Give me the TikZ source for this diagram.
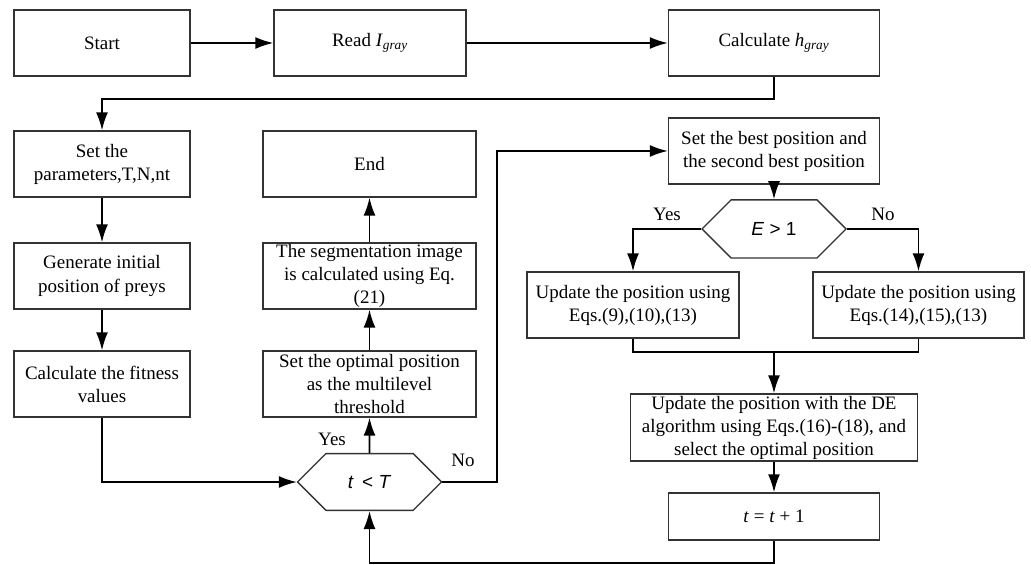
\documentclass[tikz,border=0pt]{standalone}
\usepackage{fontspec}
\setmainfont{Liberation Serif}
\newfontfamily\hexfont{Liberation Sans}
\usetikzlibrary{positioning}
\usetikzlibrary{shapes.misc}
\usetikzlibrary{arrows.meta}

\begin{document}
\begin{tikzpicture}[
  box/.style={draw=black!80,line width=1pt,minimum height=1.65cm,align=center,inner xsep=2pt,inner ysep=0pt,font=\fontsize{13.5}{16.4}\selectfont},
  hexa/.style={draw=black!80,line width=1pt,chamfered rectangle,chamfered rectangle xsep=0.8875cm,chamfered rectangle ysep=0.575cm,minimum width=3.6cm,minimum height=1.15cm,inner sep=0pt,font=\hexfont\fontsize{13.5}{16}\selectfont},
  link/.style={line width=1.2pt,-{Latex[length=0.45cm,width=0.3cm]}},
  lbl/.style={font=\fontsize{13.5}{16}\selectfont}
]
\useasboundingbox (0,0) rectangle (25.775,14.125);

\node[box,minimum width=4.4cm] (start) at (2.55,13.05) {Start};
\node[box,minimum width=4.8cm] (read) at (9.25,13.05) {Read \textit{I}\textsubscript{\textit{gray}}};
\node[box,minimum width=5.275cm] (calc) at (19.35,13.05) {Calculate \textit{h}\textsubscript{\textit{gray}}};

\node[box,minimum width=4.4cm] (params) at (2.55,10.025) {Set the\\parameters,T,N,nt};
\node[box,minimum width=4.4cm] (init) at (2.55,7.225) {Generate initial\\position of preys};
\node[box,minimum width=4.4cm] (fitness) at (2.55,4.525) {Calculate the fitness\\values};

\node[box,minimum width=5.325cm] (finish) at (9.2375,10.025) {End};
\node[box,minimum width=5.325cm] (segment) at (9.2375,7.225) {The segmentation image\\is calculated using Eq.\\(21)};
\node[box,minimum width=5.325cm] (optimal) at (9.2375,4.525) {Set the optimal position\\as the multilevel\\threshold};
\node[hexa] (ttest) at (9.2375,2.075) {\textit{t}\, < \textit{T}};

\node[box,minimum width=5.275cm] (best) at (19.35,10.35) {Set the best position and\\the second best position};
\node[hexa] (etest) at (19.35,8.4) {\textit{E} > 1};
\node[box,minimum width=5.3cm] (upleft) at (15.825,6.5) {Update the position using\\Eqs.(9),(10),(13)};
\node[box,minimum width=5.275cm] (upright) at (22.9625,6.5) {Update the position using\\Eqs.(14),(15),(13)};
\node[box,minimum width=7.175cm,minimum height=1.675cm] (de) at (19.35,3.4375) {Update the position with the DE\\algorithm using Eqs.(16)-(18), and\\select the optimal position};
\node[box,minimum width=5.275cm,minimum height=1.175cm] (inc) at (19.35,1.2125) {\textit{t} = \textit{t} + 1};

\node[lbl] (yes1) at (8.3,3.15) {Yes};
\node[lbl] (no1) at (11.575,2.625) {No};
\node[lbl] (yes2) at (16.675,8.775) {Yes};
\node[lbl] (no2) at (22.075,8.775) {No};

\draw[link] (start) -- (read);
\draw[link] (read) -- (calc);
\draw[link] (calc.south) -- ++(0,-0.55) -| (params.north);
\draw[link] (params) -- (init);
\draw[link] (init) -- (fitness);
\draw[link] (fitness.south) |- (ttest.west);
\draw[link] (ttest) -- (optimal);
\draw[link] (optimal) -- (segment);
\draw[link] (segment) -- (finish);
\draw[link] (ttest.east) -- ++(1.375,0) |- (best.west);
\draw[link] (best) -- (etest);
\draw[link] (etest.west) -| (upleft.north);
\draw[link] (etest.east) -| (upright.north);
\coordinate (join) at (19.35,5.325);
\draw[line width=1.2pt] (upleft.south) |- (join) -| (upright.south);
\draw[link] (join) -- (join |- de.north);
\draw[link] (de) -- (inc);
\draw[link] (inc.south) -- ++(0,-0.55) -| (ttest.south);

\end{tikzpicture}
\end{document}
